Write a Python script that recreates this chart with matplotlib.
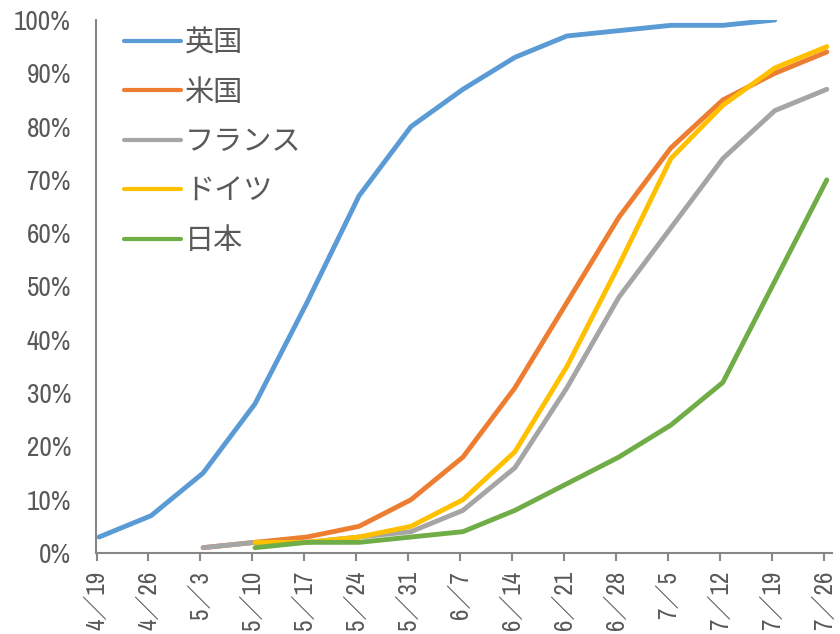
import numpy as np
import matplotlib
matplotlib.use("Agg")
import matplotlib.pyplot as plt

plt.rcParams['font.family'] = ['Archivo Narrow', 'Noto Sans CJK JP', 'DejaVu Sans']

weeks = ["4／19", "4／26", "5／3", "5／10", "5／17", "5／24", "5／31", "6／7",
         "6／14", "6／21", "6／28", "7／5", "7／12", "7／19", "7／26"]

nan = np.nan
uk = [3, 7, 15, 28, 47, 67, 80, 87, 93, 97, 98, 99, 99, 100, nan]
us = [nan, nan, 1, 2, 3, 5, 10, 18, 31, 47, 63, 76, 85, 90, 94]
france = [nan, nan, 1, 2, 2, 3, 4, 8, 16, 31, 48, 61, 74, 83, 87]
germany = [nan, nan, nan, 2, 2, 3, 5, 10, 19, 35, 54, 74, 84, 91, 95]
japan = [nan, nan, nan, 1, 2, 2, 3, 4, 8, 13, 18, 24, 32, 51, 70]

names = ["英国", "米国", "フランス", "ドイツ", "日本"]
series = [uk, us, france, germany, japan]
colors = ["#5B9BD5", "#ED7D31", "#A5A5A5", "#FFC000", "#70AD47"]

text_color = "#595959"
axis_color = "#878787"

fig = plt.figure(figsize=(8.4, 6.34), dpi=100)
ax = fig.add_axes([96 / 840, 1 - 553 / 634, (832 - 96) / 840, (553 - 20) / 634])

x = np.arange(len(weeks))
for name, vals, c in zip(names, series, colors):
    ax.plot(x, np.array(vals, dtype=float) / 100, color=c, lw=3.5,
            solid_capstyle='round', solid_joinstyle='round', label=name)

ax.set_ylim(0, 1.0)
ax.set_xlim(-0.06, len(weeks) - 1 + 0.1)
yt = np.arange(0, 1.01, 0.1)
ax.set_yticks(yt)
ax.set_yticklabels([f"{int(round(v * 100))}%" for v in yt])
ax.set_xticks(x - 0.05)
ax.set_xticklabels(weeks, rotation=90, va='top', ha='center')

for s in ['top', 'right']:
    ax.spines[s].set_visible(False)
for s in ['left', 'bottom']:
    ax.spines[s].set_color(axis_color)
    ax.spines[s].set_linewidth(1.5)

ax.tick_params(axis='y', length=0, pad=18, labelsize=19.5, labelcolor=text_color)
ax.tick_params(axis='x', length=6, width=1.5, color=axis_color, pad=7,
               labelsize=18, labelcolor=text_color)

leg = ax.legend(loc='upper left', bbox_to_anchor=(0.038, 0.983), frameon=False,
                fontsize=21, handlelength=1.95, handletextpad=0.15,
                labelspacing=0.77, borderpad=0, borderaxespad=0)
for t in leg.get_texts():
    t.set_color(text_color)
for h in leg.legend_handles:
    h.set_linewidth(3.0)

fig.savefig("out.png", dpi=100)
